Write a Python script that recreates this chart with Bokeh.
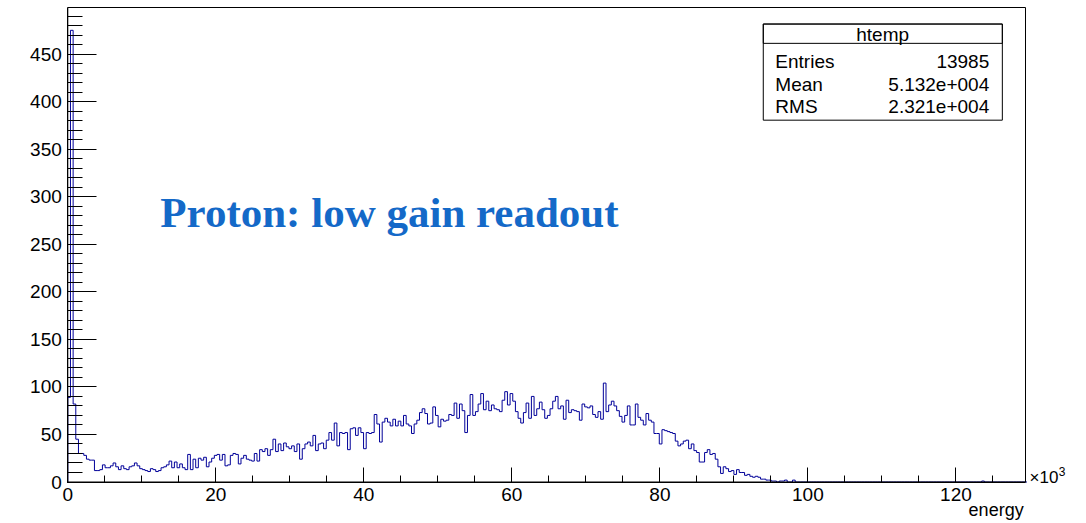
from bokeh.plotting import figure
from bokeh.models import Label, BoxAnnotation, SingleIntervalTicker, Range1d
from bokeh.embed import file_html
from bokeh.resources import INLINE

# Histogram "htemp" of the energy branch (x in units of 10^3), 0.36k wide bins
bin_width = 0.36
x_min, x_max = 0.0, 129.4
y_min, y_max = 0.0, 499.0

counts_low = [
    89, 475, 82, 45, 30, 30, 28, 24, 23, 23,
    12, 12, 13, 18, 15, 15, 17, 20, 16, 13,
    17, 14, 13, 16, 17, 20, 17, 14, 13, 12,
    11, 14, 13, 11, 12, 15, 16, 18, 22, 15,
    21, 15, 19, 15, 13, 29, 13, 24, 15, 25,
]
counts_rise = [
    23, 26, 16, 21, 25, 28, 29, 23, 29, 17,
    18, 28, 30, 29, 19, 25, 28, 24, 23, 22,
    30, 22, 34, 32, 35, 28, 34, 45, 32, 40,
    33, 41, 37, 35, 38, 32, 40, 24, 35, 40,
    42, 38, 49, 33, 40, 41, 35, 44, 52, 44,
    62, 38, 52, 51, 52, 34, 56,
]
counts_mid = [
    57, 49, 57, 52, 35, 52, 51, 52, 71, 61,
    42, 63, 67, 63, 59, 66, 59, 64, 59, 70,
    61, 59, 51, 61, 65, 73, 77, 72, 61, 62,
    79, 70, 58, 66, 64, 65, 71, 70, 83, 67,
    82, 75, 52, 70, 92, 70, 74, 82, 93, 76,
    85, 75, 81, 77, 76, 74,
]
counts_peak = [
    86, 95, 81, 93, 85, 74, 67, 62, 73, 83,
    67, 90, 70, 77, 84, 76, 67, 70, 77, 85,
    90, 77, 80, 66, 86, 73, 76, 75, 74, 65,
    82, 79, 78, 80, 71, 68, 74, 66,
    104,
    74, 81, 85, 80, 75, 69, 63, 70, 80, 60, 60, 82, 68, 65, 60,
]
counts_fall = [
    72, 65, 63, 51, 51, 40, 55, 54, 53, 52,
    51, 43, 38, 40, 43, 44, 35, 40, 33, 31,
    21, 21, 31, 34, 29, 30, 24, 16, 9, 16,
    14, 11, 12, 8, 13, 10, 10, 7, 8, 6,
    5, 6, 5, 3, 3, 2, 2, 1, 1, 0,
    1, 1, 2, 0, 0, 2, 0,
]
counts_tail = [0] * 69 + [1] + [0] * 16

counts = counts_low + counts_rise + counts_mid + counts_peak + counts_fall + counts_tail
edges = [i * bin_width for i in range(len(counts) + 1)]

x_ticks_interval = 20
y_ticks_interval = 50

stats_title = "htemp"
stats_names = ["Entries", "Mean", "RMS"]
stats_values = ["13985", "5.132e+004", "2.321e+004"]

FONT = "Liberation Sans"

# canvas geometry: the pad frame sits inside the canvas, margins hold the labels
W, H = 1086, 523
pad_left, pad_right, pad_top, pad_bottom = 67.3, 1025.0, 7.0, 481.5
sx = (pad_right - pad_left) / (x_max - x_min)
sy = (pad_bottom - pad_top) / (y_max - y_min)
x_lo = x_min - pad_left / sx
y_lo = y_min - (H - pad_bottom) / sy

p = figure(
    width=W, height=H,
    x_range=Range1d(x_lo, x_lo + W / sx), y_range=Range1d(y_lo, y_lo + H / sy),
    output_backend="svg", toolbar_location=None,
    min_border=0, min_border_left=0, min_border_right=0,
    min_border_top=0, min_border_bottom=0,
)
p.background_fill_color = "white"
p.border_fill_color = "white"
p.outline_line_color = None
p.grid.visible = False

# histogram outline
step_x = [edges[0]] + edges
step_y = [0] + counts + [counts[-1]]
p.step(step_x, step_y, mode="after", line_color="#000099", line_width=1)

# pad frame
p.add_layout(BoxAnnotation(left=x_min, right=x_max, bottom=y_min, top=y_max,
                           fill_alpha=0.0, line_color="black", line_width=1,
                           line_alpha=1.0))

# axes, ROOT style: ticks inside the frame, drawn along the frame edges
p.xaxis.ticker = SingleIntervalTicker(interval=x_ticks_interval, num_minor_ticks=4)
p.yaxis.ticker = SingleIntervalTicker(interval=y_ticks_interval, num_minor_ticks=5)
p.xaxis.fixed_location = y_min
p.yaxis.fixed_location = x_min
p.xaxis.bounds = (x_min, x_max)
p.yaxis.bounds = (y_min, y_max)
for ax in (p.xaxis, p.yaxis):
    ax.axis_line_color = "black"
    ax.major_tick_line_color = "black"
    ax.minor_tick_line_color = "black"
    ax.major_tick_out = 0
    ax.minor_tick_out = 0
    ax.major_label_text_font = FONT
    ax.major_label_text_font_size = "19px"
    ax.major_label_text_color = "black"
    ax.major_label_standoff = 6
p.xaxis.major_tick_in = 15
p.xaxis.minor_tick_in = 7
p.yaxis.major_tick_in = 29
p.yaxis.minor_tick_in = 15

# statistics box
p.add_layout(BoxAnnotation(left=93.97, right=126.27, bottom=380.5, top=481.6,
                           fill_color="white", fill_alpha=1.0,
                           line_color="black", line_width=1, line_alpha=1.0))
p.add_layout(BoxAnnotation(left=93.97, right=126.27, bottom=461.3, top=481.6,
                           fill_alpha=0.0, line_color="black", line_width=1,
                           line_alpha=1.0))
p.add_layout(Label(x=110.1, y=471.0, text=stats_title, text_align="center",
                   text_baseline="middle", text_font=FONT,
                   text_font_size="19px", text_color="black"))
for name, val, yy in zip(stats_names, stats_values, [442.0, 418.0, 394.5]):
    p.add_layout(Label(x=95.6, y=yy, text=name, text_align="left",
                       text_baseline="middle", text_font=FONT,
                       text_font_size="19px", text_color="black"))
    p.add_layout(Label(x=124.5, y=yy, text=val, text_align="right",
                       text_baseline="middle", text_font=FONT,
                       text_font_size="19px", text_color="black"))

# headline
p.add_layout(Label(x=12.5, y=282.9, text="Proton: low gain readout",
                   text_align="left", text_baseline="alphabetic",
                   text_font="Liberation Serif", text_font_style="bold",
                   text_font_size="43px", text_color="#1469C8"))

# axis title and exponent
p.add_layout(Label(x=129.15, y=-29.4, text="energy", text_align="right",
                   text_baseline="alphabetic", text_font=FONT,
                   text_font_size="18px", text_color="black"))
p.add_layout(Label(x=129.95, y=4.6, text="\u00d710", text_align="left",
                   text_baseline="alphabetic", text_font=FONT,
                   text_font_size="17px", text_color="black"))
p.add_layout(Label(x=133.9, y=11.0, text="3", text_align="left",
                   text_baseline="alphabetic", text_font=FONT,
                   text_font_size="12px", text_color="black"))

open("out.html", "w").write(file_html(p, INLINE))
